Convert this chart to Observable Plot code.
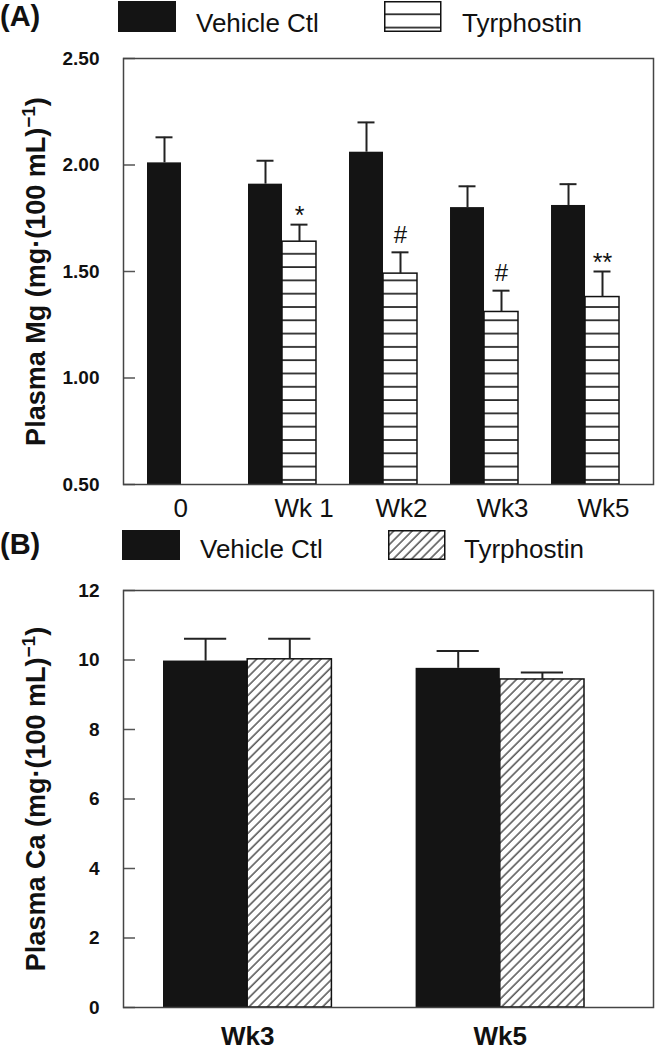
<!DOCTYPE html>
<html>
<head>
<meta charset="utf-8">
<script src="https://cdn.jsdelivr.net/npm/d3@7"></script>
<script src="https://cdn.jsdelivr.net/npm/@observablehq/plot@0.6"></script>
<style>
  body { margin: 0; background: #fff; }
  #page { position: relative; width: 655px; height: 1050px; overflow: hidden; background: #fff;
          font-family: "Liberation Sans", Arial, Helvetica, sans-serif; }
  #page > svg, #page > div { position: absolute; left: 0; }
</style>
</head>
<body>
<svg width="0" height="0" style="position:absolute">
  <defs>
    <pattern id="hlines" patternUnits="userSpaceOnUse" width="10" height="13.3">
      <rect width="10" height="13.3" fill="#fff"/>
      <line x1="0" x2="10" y1="1" y2="1" stroke="#111" stroke-width="1.6"/>
    </pattern>
    <pattern id="diag" patternUnits="userSpaceOnUse" width="6.5" height="10" patternTransform="rotate(45)">
      <rect width="6.5" height="10" fill="#fff"/>
      <line x1="1" x2="1" y1="0" y2="10" stroke="#111" stroke-width="1.1"/>
    </pattern>
  </defs>
</svg>
<div id="page"></div>
<script>
// ---------- data ----------
const series = ["Vehicle Ctl", "Tyrphostin"];

// Panel A: plasma Mg
const groupsA = ["0", "Wk 1", "Wk2", "Wk3", "Wk5"];
const vehicleA = [2.01, 1.91, 2.06, 1.80, 1.81];
const vehicleErrA = [0.12, 0.11, 0.14, 0.10, 0.10];
const tyrA = [null, 1.64, 1.49, 1.31, 1.38];
const tyrErrA = [null, 0.08, 0.10, 0.10, 0.12];
const sigA = [null, "*", "#", "#", "**"];
const yDomainA = [0.5, 2.5];
const yTicksA = [0.5, 1.0, 1.5, 2.0, 2.5];
const labelA = "Plasma Mg (mg·(100 mL)⁻¹)";

// Panel B: plasma Ca
const groupsB = ["Wk3", "Wk5"];
const vehicleB = [9.97, 9.76];
const vehicleErrB = [0.64, 0.50];
const tyrB = [10.02, 9.44];
const tyrErrB = [0.59, 0.20];
const yDomainB = [0, 12];
const yTicksB = [0, 2, 4, 6, 8, 10, 12];
const labelB = "Plasma Ca (mg·(100 mL)⁻¹)";

// ---------- helpers ----------
const FONT = '"Liberation Sans", Arial, Helvetica, sans-serif';

function makeRows(groups, veh, vehErr, tyr, tyrErr, sig) {
  const rows = [];
  groups.forEach((g, i) => {
    if (veh[i] != null) rows.push({group: g, series: series[0], value: veh[i], err: vehErr[i], sig: null});
    if (tyr[i] != null) rows.push({group: g, series: series[1], value: tyr[i], err: tyrErr[i], sig: sig ? sig[i] : null});
  });
  return rows;
}

function supLabel(svg, label) {
  const [pre, post] = label.split("⁻¹");
  d3.select(svg).selectAll("text").filter(function() { return this.textContent === label; }).each(function() {
    const t = d3.select(this);
    t.text(null);
    t.append("tspan").text(pre);
    t.append("tspan").attr("dy", -10).attr("font-size", 19).text("−1");
    t.append("tspan").attr("dy", 10).text(post);
  });
}

function legend(tag, top, tyrFill) {
  const svg = d3.create("svg").attr("width", 655).attr("height", 40)
    .style("top", top + "px").attr("font-family", FONT);
  svg.append("text").attr("x", 0).attr("y", 26).attr("font-size", 29).attr("font-weight", "bold").attr("fill", "#111").text(tag);
  const o = tag === "(A)" ? {bx: 118, tx: 196, hx: 384, hx2: 462, by: 1, bh: 31, ty: 32}
                          : {bx: 122, tx: 200, hx: 388, hx2: 464, by: 2, bh: 30, ty: 30};
  svg.append("rect").attr("x", o.bx).attr("y", o.by).attr("width", 58).attr("height", o.bh).attr("fill", "#141414");
  svg.append("text").attr("x", o.tx).attr("y", o.ty).attr("font-size", 26).attr("fill", "#111").text(series[0]);
  svg.append("rect").attr("x", o.hx + 0.75).attr("y", o.by + 0.75).attr("width", 56).attr("height", o.bh - 1.5)
    .attr("fill", tyrFill).attr("stroke", "#111").attr("stroke-width", 1.5);
  svg.append("text").attr("x", o.hx2).attr("y", o.ty).attr("font-size", 26).attr("fill", "#111").text(series[1]);
  return svg.node();
}

const page = document.getElementById("page");

// ---------- Panel A ----------
const rowsA = makeRows(groupsA, vehicleA, vehicleErrA, tyrA, tyrErrA, sigA);
const plotA = Plot.plot({
  width: 655, height: 488,
  marginTop: 18, marginBottom: 44, marginLeft: 147, marginRight: 36,
  style: {fontFamily: FONT, background: "transparent", color: "#111", overflow: "visible"},
  fx: {domain: groupsA, paddingInner: 0.327, paddingOuter: 0, round: false, label: null},
  x: {domain: series, padding: 0, round: false, axis: null},
  y: {domain: yDomainA, label: null},
  marks: [
    Plot.barY(rowsA, {filter: d => d.series === series[0], fx: "group", x: "series", y1: yDomainA[0], y2: "value", fill: "#141414"}),
    Plot.barY(rowsA, {filter: d => d.series === series[1], fx: "group", x: "series", y1: yDomainA[0], y2: "value", fill: "url(#hlines)", stroke: "#111", strokeWidth: 1.5}),
    Plot.ruleX(rowsA, {fx: "group", x: "series", y1: "value", y2: d => d.value + d.err, stroke: "#222", strokeWidth: 2}),
    Plot.tickY(rowsA, {fx: "group", x: "series", y: d => d.value + d.err, stroke: "#222", strokeWidth: 2, insetLeft: 8.5, insetRight: 8.5}),
    Plot.text(rowsA, {filter: d => d.sig === "#", fx: "group", x: "series", y: d => d.value + d.err, text: "sig", dy: -17, fontSize: 24, fill: "#111"}),
    Plot.text(rowsA, {filter: d => d.sig && d.sig[0] === "*", fx: "group", x: "series", y: d => d.value + d.err, text: "sig", dy: -9, fontSize: 25, fill: "#111"}),
    Plot.axisY({ticks: yTicksA, tickSize: 0, tickPadding: 48, tickFormat: d3.format(".2f"), fontSize: 19, fontWeight: "bold", label: null}),
    Plot.axisY({ticks: yTicksA, tickSize: 12, dx: -12, fill: "none", stroke: "#555", strokeWidth: 1.5, label: null}),
    Plot.axisFx({anchor: "bottom", tickSize: 0, tickPadding: 14, fontSize: 26, textAnchor: "start", dx: -8, label: null}),
    Plot.text([labelA], {text: d => d, frameAnchor: "left", textAnchor: "middle", rotate: -90, lineAnchor: "top", dx: -122, fontSize: 27, fontWeight: "bold", fill: "#111", facet: "super"}),
    Plot.frame({facet: "super", insetLeft: -24, insetRight: -34, stroke: "#444", strokeWidth: 1.5})
  ]
});
plotA.style.top = "40px";
supLabel(plotA, labelA);

// ---------- Panel B ----------
const rowsB = makeRows(groupsB, vehicleB, vehicleErrB, tyrB, tyrErrB, null);
const plotB = Plot.plot({
  width: 655, height: 485,
  marginTop: 25, marginBottom: 43, marginLeft: 163, marginRight: 71,
  style: {fontFamily: FONT, background: "transparent", color: "#111", overflow: "visible"},
  fx: {domain: groupsB, paddingInner: 1 / 3, paddingOuter: 0, round: false, label: null},
  x: {domain: series, padding: 0, round: false, axis: null},
  y: {domain: yDomainB, label: null},
  marks: [
    Plot.barY(rowsB, {filter: d => d.series === series[0], fx: "group", x: "series", y1: yDomainB[0], y2: "value", fill: "#141414"}),
    Plot.barY(rowsB, {filter: d => d.series === series[1], fx: "group", x: "series", y1: yDomainB[0], y2: "value", fill: "url(#diag)", stroke: "#111", strokeWidth: 1.5}),
    Plot.ruleX(rowsB, {fx: "group", x: "series", y1: "value", y2: d => d.value + d.err, stroke: "#222", strokeWidth: 2}),
    Plot.tickY(rowsB, {fx: "group", x: "series", y: d => d.value + d.err, stroke: "#222", strokeWidth: 2, insetLeft: 21, insetRight: 21}),
    Plot.axisY({ticks: yTicksB, tickSize: 0, tickPadding: 64, fontSize: 19, fontWeight: "bold", label: null}),
    Plot.axisY({ticks: yTicksB, tickSize: 12, dx: -28, fill: "none", stroke: "#555", strokeWidth: 1.5, label: null}),
    Plot.axisFx({anchor: "bottom", tickSize: 0, tickPadding: 19, fontSize: 26, fontWeight: "bold", label: null}),
    Plot.text([labelB], {text: d => d, frameAnchor: "left", textAnchor: "middle", rotate: -90, lineAnchor: "top", dx: -138, fontSize: 27, fontWeight: "bold", fill: "#111", facet: "super"}),
    Plot.frame({facet: "super", insetLeft: -40, insetRight: -69, stroke: "#444", strokeWidth: 1.5})
  ]
});
plotB.style.top = "565px";
supLabel(plotB, labelB);

page.appendChild(legend("(A)", 0, "url(#hlines)"));
page.appendChild(plotA);
page.appendChild(legend("(B)", 528, "url(#diag)"));
page.appendChild(plotB);
</script>
</body>
</html>
